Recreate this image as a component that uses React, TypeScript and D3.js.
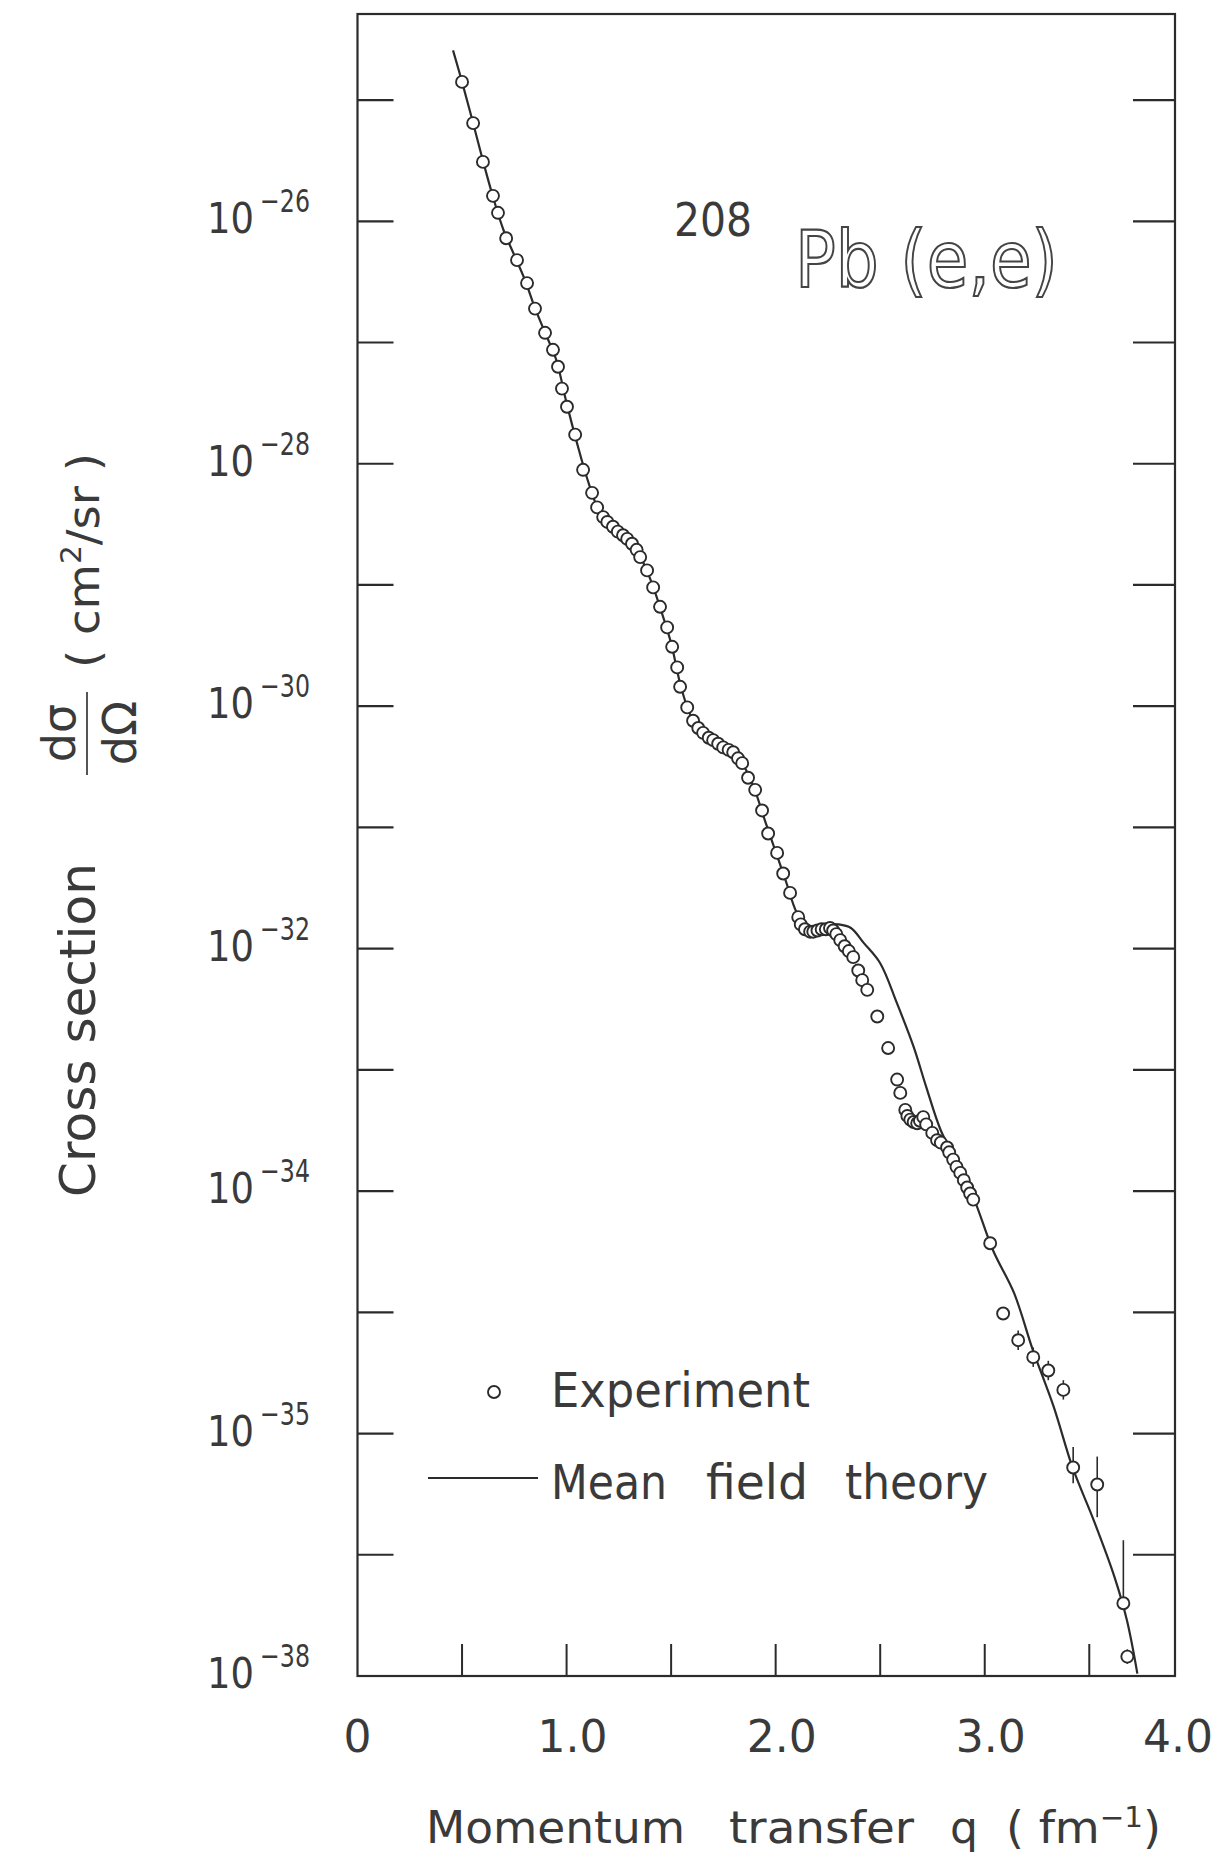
import React from "react";
import * as d3 from "d3";

// ---------- data (q in fm^-1, cross section as log10 exponent) ----------
const theoryQ = [0.457, 0.5, 0.55, 0.6, 0.65, 0.7, 0.75, 0.8, 0.85, 0.9, 0.95, 1.0, 1.05, 1.1, 1.15, 1.2, 1.25, 1.3, 1.35, 1.4, 1.45, 1.5, 1.55, 1.6, 1.65, 1.7, 1.75, 1.8, 1.85, 1.9, 1.95, 2.0, 2.05, 2.1, 2.15, 2.2, 2.25, 2.3, 2.36, 2.42, 2.5, 2.58, 2.66, 2.72, 2.79, 2.87, 2.95, 3.04, 3.14, 3.23, 3.33, 3.42, 3.52, 3.62, 3.68, 3.73];
const theoryExp = [-24.59, -24.85, -25.17, -25.5, -25.81, -26.08, -26.28, -26.48, -26.72, -26.93, -27.14, -27.5, -27.83, -28.13, -28.37, -28.5, -28.59, -28.65, -28.76, -28.95, -29.2, -29.48, -29.86, -30.1, -30.21, -30.28, -30.33, -30.38, -30.5, -30.69, -30.95, -31.2, -31.45, -31.7, -31.82, -31.82, -31.8, -31.8, -31.83, -31.95, -32.12, -32.45, -32.81, -33.14, -33.5, -33.77, -34.07, -34.49, -34.84, -35.31, -35.78, -36.28, -36.71, -37.18, -37.54, -37.98];

const expQ = [0.5, 0.553, 0.6, 0.648, 0.672, 0.711, 0.763, 0.811, 0.849, 0.897, 0.935, 0.959, 0.978, 1.002, 1.041, 1.079, 1.122, 1.146, 1.175, 1.195, 1.222, 1.245, 1.27, 1.29, 1.313, 1.335, 1.352, 1.385, 1.414, 1.447, 1.481, 1.505, 1.529, 1.543, 1.577, 1.605, 1.63, 1.653, 1.68, 1.701, 1.725, 1.749, 1.775, 1.797, 1.82, 1.84, 1.868, 1.902, 1.935, 1.964, 2.007, 2.036, 2.069, 2.108, 2.12, 2.14, 2.165, 2.18, 2.2, 2.22, 2.24, 2.26, 2.275, 2.29, 2.309, 2.33, 2.35, 2.371, 2.395, 2.414, 2.438, 2.486, 2.538, 2.581, 2.596, 2.62, 2.63, 2.644, 2.66, 2.677, 2.69, 2.706, 2.72, 2.749, 2.772, 2.79, 2.82, 2.83, 2.849, 2.865, 2.883, 2.9, 2.916, 2.93, 2.945, 3.026, 3.088, 3.16, 3.232, 3.304, 3.376, 3.423, 3.538, 3.663, 3.682];
const expExp = [-24.85, -25.19, -25.51, -25.79, -25.93, -26.14, -26.32, -26.51, -26.72, -26.92, -27.06, -27.2, -27.38, -27.53, -27.76, -28.05, -28.24, -28.36, -28.44, -28.48, -28.52, -28.56, -28.59, -28.62, -28.66, -28.71, -28.77, -28.88, -29.02, -29.18, -29.35, -29.51, -29.68, -29.84, -30.01, -30.12, -30.18, -30.22, -30.26, -30.28, -30.31, -30.34, -30.36, -30.38, -30.43, -30.47, -30.59, -30.69, -30.86, -31.05, -31.21, -31.38, -31.54, -31.74, -31.8, -31.84, -31.86, -31.86, -31.85, -31.84, -31.84, -31.83, -31.85, -31.88, -31.93, -31.98, -32.02, -32.07, -32.18, -32.26, -32.34, -32.56, -32.82, -33.08, -33.19, -33.33, -33.38, -33.41, -33.43, -33.44, -33.42, -33.39, -33.45, -33.52, -33.58, -33.6, -33.64, -33.68, -33.74, -33.8, -33.85, -33.91, -33.97, -34.02, -34.07, -34.43, -35.01, -35.23, -35.37, -35.48, -35.64, -36.28, -36.42, -37.4, -37.84];

// error bars: q, upper exponent, lower exponent
const errQ = [3.16, 3.232, 3.304, 3.376, 3.423, 3.538, 3.663, 3.682];
const errHi = [-35.15, -35.29, -35.4, -35.56, -36.11, -36.19, -36.88, -37.78];
const errLo = [-35.31, -35.45, -35.56, -35.72, -36.41, -36.69, -37.4, -37.9];

const yTickExps = [-25, -26, -27, -28, -29, -30, -31, -32, -33, -34, -35, -36, -37];
const yLabelExps = [-26, -28, -30, -32, -34, -36, -38];
const yLabelTexts = ["−26", "−28", "−30", "−32", "−34", "−35", "−38"];
const xTickVals = [0.5, 1.0, 1.5, 2.0, 2.5, 3.0, 3.5];
const xLabelVals = [0, 1, 2, 3, 4];
const xLabelTexts = ["0", "1.0", "2.0", "3.0", "4.0"];

const W = 1231;
const H = 1855;
const INK = "#2b2b2b";
const TXT = "#3a3a3a";
const FONT = "'DejaVu Sans', 'Liberation Sans', sans-serif";

export default function App() {
  const x = d3.scaleLinear().domain([0, 3.91]).range([357.5, 1175]);
  const y = d3.scaleLog().domain([1e-38, Math.pow(10, -24.29)]).range([1676, 14]);
  const left = x(0);
  const right = x(3.91);
  const top = y(Math.pow(10, -24.29));
  const bottom = y(1e-38);

  const theory = theoryQ.map((q, i) => [q, Math.pow(10, theoryExp[i])] as [number, number]);
  const lineGen = d3
    .line<[number, number]>()
    .x((d) => x(d[0]))
    .y((d) => y(d[1]))
    .curve(d3.curveCatmullRom.alpha(0.5));

  const sp = (s: string, xx: number, yy: number, len: number, fs: number) => (
    <text x={xx} y={yy} fontSize={fs} fill={TXT} textLength={len} lengthAdjust="spacingAndGlyphs">
      {s}
    </text>
  );

  return (
    <svg
      width={W}
      height={H}
      viewBox={`0 0 ${W} ${H}`}
      style={{ position: "absolute", left: 0, top: 0, background: "#fff" }}
      fontFamily={FONT}
    >
      <rect x={0} y={0} width={W} height={H} fill="#fff" />
      {/* frame */}
      <rect x={left} y={top} width={right - left} height={bottom - top} fill="none" stroke={INK} strokeWidth={2.2} />

      {/* left / right ticks */}
      {yTickExps.map((e) => {
        const yy = y(Math.pow(10, e));
        return (
          <g key={"yt" + e}>
            <line x1={left} x2={left + 36} y1={yy} y2={yy} stroke={INK} strokeWidth={2.2} />
            <line x1={right} x2={right - 42} y1={yy} y2={yy} stroke={INK} strokeWidth={2.2} />
          </g>
        );
      })}
      {/* bottom ticks */}
      {xTickVals.map((v) => (
        <line key={"xt" + v} x1={x(v)} x2={x(v)} y1={bottom} y2={bottom - 32} stroke={INK} strokeWidth={2} />
      ))}

      {/* y tick labels */}
      {yLabelExps.map((e, i) => {
        const yy = y(Math.pow(10, e));
        return (
          <g key={"yl" + e} fill={TXT}>
            <text x={207} y={yy + 12} fontSize={42} textLength={47} lengthAdjust="spacingAndGlyphs">10</text>
            <text x={260} y={yy - 9} fontSize={32} textLength={50} lengthAdjust="spacingAndGlyphs">{yLabelTexts[i]}</text>
          </g>
        );
      })}

      {/* x tick labels */}
      {xLabelVals.map((v, i) => (
        <text
          key={"xl" + v}
          x={Math.min(x(v) + (v === 0 ? 0 : 6), right + 3)}
          y={1752}
          fontSize={44}
          textAnchor="middle"
          fill={TXT}
        >
          {xLabelTexts[i]}
        </text>
      ))}

      {/* theory curve */}
      <path d={lineGen(theory) || ""} fill="none" stroke={INK} strokeWidth={2.2} />

      {/* error bars */}
      {errQ.map((q, i) => (
        <line
          key={"eb" + i}
          x1={x(q)}
          x2={x(q)}
          y1={y(Math.pow(10, errHi[i]))}
          y2={y(Math.pow(10, errLo[i]))}
          stroke={INK}
          strokeWidth={1.6}
        />
      ))}

      {/* experiment points */}
      {expQ.map((q, i) => (
        <circle
          key={"pt" + i}
          cx={x(q)}
          cy={y(Math.pow(10, expExp[i]))}
          r={6}
          fill="#fff"
          stroke={INK}
          strokeWidth={1.9}
        />
      ))}

      {/* annotation */}
      <text x={674} y={236} fontSize={46} fill={TXT} textLength={78} lengthAdjust="spacingAndGlyphs">208</text>
      <text
        x={795}
        y={287}
        fontSize={78}
        fill="#fff"
        stroke="#444"
        strokeWidth={2.2}
        textLength={263}
        lengthAdjust="spacingAndGlyphs"
      >
        Pb (e,e)
      </text>

      {/* legend */}
      <circle cx={494} cy={1392} r={6} fill="#fff" stroke={INK} strokeWidth={1.9} />
      {sp("Experiment", 551, 1407, 259, 48)}
      <line x1={428} x2={538} y1={1478} y2={1478} stroke={INK} strokeWidth={2.2} />
      {sp("Mean", 551, 1499, 116, 48)}
      {sp("field", 706, 1499, 102, 48)}
      {sp("theory", 845, 1499, 143, 48)}

      {/* x axis title */}
      {sp("Momentum", 426, 1843, 259, 44)}
      {sp("transfer", 729, 1843, 185, 44)}
      {sp("q", 950, 1843, 28, 44)}
      <text x={1006} y={1843} fontSize={44} fill={TXT} textLength={155} lengthAdjust="spacingAndGlyphs">
        ( fm<tspan fontSize={28} dy={-16}>−1</tspan><tspan dy={16}>)</tspan>
      </text>

      {/* y axis title (rotated) */}
      <g fill={TXT}>
        <text transform="translate(95,1197) rotate(-90)" fontSize={50} textLength={334} lengthAdjust="spacingAndGlyphs">
          Cross  section
        </text>
        <text transform="translate(75,733) rotate(-90)" fontSize={46} textAnchor="middle">dσ</text>
        <line x1={87} x2={87} y1={692} y2={775} stroke="#555" strokeWidth={2} />
        <text transform="translate(136,733) rotate(-90)" fontSize={46} textAnchor="middle">dΩ</text>
        <text transform="translate(99,668) rotate(-90)" fontSize={44} textLength={215} lengthAdjust="spacingAndGlyphs">
          ( cm<tspan fontSize={28} dy={-18}>2</tspan><tspan dy={18}>/sr )</tspan>
        </text>
      </g>
    </svg>
  );
}
